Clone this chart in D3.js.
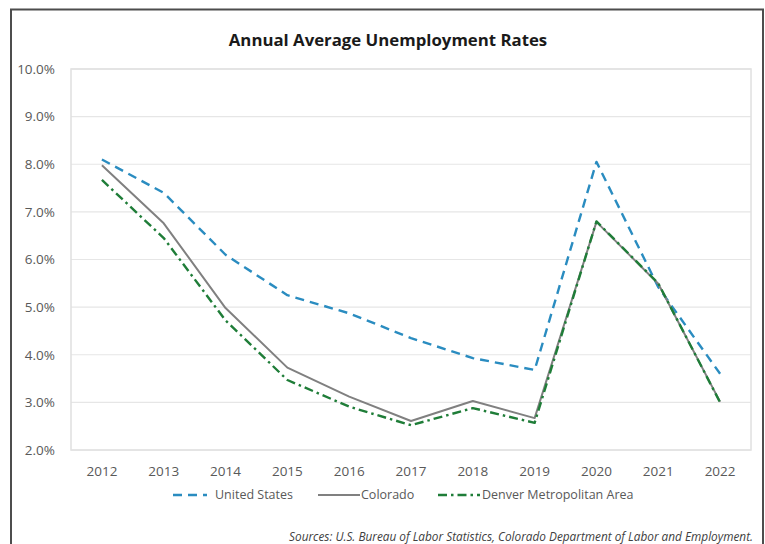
<!DOCTYPE html>
<html>
<head>
<meta charset="utf-8">
<script src="https://cdn.jsdelivr.net/npm/d3@7"></script>
<style>
  html, body { margin: 0; padding: 0; background: #fff; }
  svg { display: block; }
  text { font-family: "Open Sans", "Noto Sans", sans-serif; }
</style>
</head>
<body>
<svg id="chart" width="765" height="544"></svg>
<script>
const years = ["2012","2013","2014","2015","2016","2017","2018","2019","2020","2021","2022"];
const unitedStates = [8.1, 7.4, 6.1, 5.25, 4.87, 4.35, 3.93, 3.68, 8.05, 5.42, 3.6];
const colorado = [7.98, 6.76, 4.98, 3.73, 3.12, 2.61, 3.03, 2.67, 6.79, 5.49, 3.01];
const denver = [7.67, 6.45, 4.72, 3.47, 2.91, 2.52, 2.88, 2.57, 6.8, 5.5, 3.0];
const yTicks = [2, 3, 4, 5, 6, 7, 8, 9, 10];
const seriesNames = ["United States", "Colorado", "Denver Metropolitan Area"];
const title = "Annual Average Unemployment Rates";
const source = "Sources: U.S. Bureau of Labor Statistics, Colorado Department of Labor and Employment.";

const svg = d3.select("#chart");
const plot = { left: 71, right: 751, top: 69, bottom: 450 };

// outer frame
svg.append("rect").attr("x", 11).attr("y", 9.5).attr("width", 752).attr("height", 545)
  .attr("fill", "#fff").attr("stroke", "#4d4d4d").attr("stroke-width", 2);

const x = d3.scaleBand().domain(years).range([plot.left, plot.right]);
const y = d3.scaleLinear().domain([2, 10]).range([plot.bottom, plot.top]);

// gridlines
svg.append("g").selectAll("line").data(yTicks).join("line")
  .attr("x1", plot.left).attr("x2", plot.right)
  .attr("y1", d => y(d)).attr("y2", d => y(d))
  .attr("stroke", "#e6e6e6").attr("stroke-width", 1.2);

// plot border
svg.append("rect").attr("x", plot.left).attr("y", plot.top)
  .attr("width", plot.right - plot.left).attr("height", plot.bottom - plot.top)
  .attr("fill", "none").attr("stroke", "#e0e0e0").attr("stroke-width", 1.5);

// y axis labels
const yAxis = d3.axisLeft(y).tickValues(yTicks).tickFormat(d => d.toFixed(1) + "%").tickSize(0).tickPadding(16);
const gy = svg.append("g").attr("transform", `translate(${plot.left},0)`).call(yAxis);
gy.select(".domain").remove();
gy.selectAll("text").attr("font-size", 13.5).attr("fill", "#595959")
  .style("font-family", "'Open Sans', sans-serif");

// x axis labels
const xAxis = d3.axisBottom(x).tickSize(0).tickPadding(16);
const gx = svg.append("g").attr("transform", `translate(0,${plot.bottom})`).call(xAxis);
gx.select(".domain").remove();
gx.selectAll("text").attr("font-size", 13.5).attr("fill", "#595959")
  .style("font-family", "'Open Sans', sans-serif");

const cx = d => x(d) + x.bandwidth() / 2;
const line = d3.line().x((d, i) => cx(years[i])).y(d => y(d));

const styles = [
  { data: unitedStates, color: "#2a8cc0", width: 2.4, dash: "9,6" },
  { data: colorado, color: "#808080", width: 2, dash: null },
  { data: denver, color: "#1f7d38", width: 2.4, dash: "9,4,2.5,4" }
];

styles.forEach(s => {
  svg.append("path").datum(s.data).attr("d", line)
    .attr("fill", "none").attr("stroke", s.color).attr("stroke-width", s.width)
    .attr("stroke-linejoin", "round")
    .attr("stroke-dasharray", s.dash);
});

// title
svg.append("text").attr("x", 388).attr("y", 46).attr("text-anchor", "middle")
  .attr("font-size", 16.8).attr("font-weight", "bold").attr("fill", "#1a1a1a").text(title);

// legend
const legendY = 495;
const legendItems = [
  { x0: 173, x1: 207, tx: 215 },
  { x0: 318, x1: 360, tx: 361 },
  { x0: 438, x1: 480, tx: 482 }
];
legendItems.forEach((it, i) => {
  const s = styles[i];
  svg.append("line").attr("x1", it.x0).attr("x2", it.x1).attr("y1", legendY).attr("y2", legendY)
    .attr("stroke", s.color).attr("stroke-width", s.width).attr("stroke-dasharray", s.dash);
  svg.append("text").attr("x", it.tx).attr("y", legendY).attr("dy", "0.35em")
    .attr("font-size", 12.5).attr("fill", "#595959").text(seriesNames[i]);
});

// source
svg.append("text").attr("x", 753).attr("y", 541).attr("text-anchor", "end")
  .attr("font-size", 11.8).attr("font-style", "italic").attr("fill", "#404040").text(source);
</script>
</body>
</html>
